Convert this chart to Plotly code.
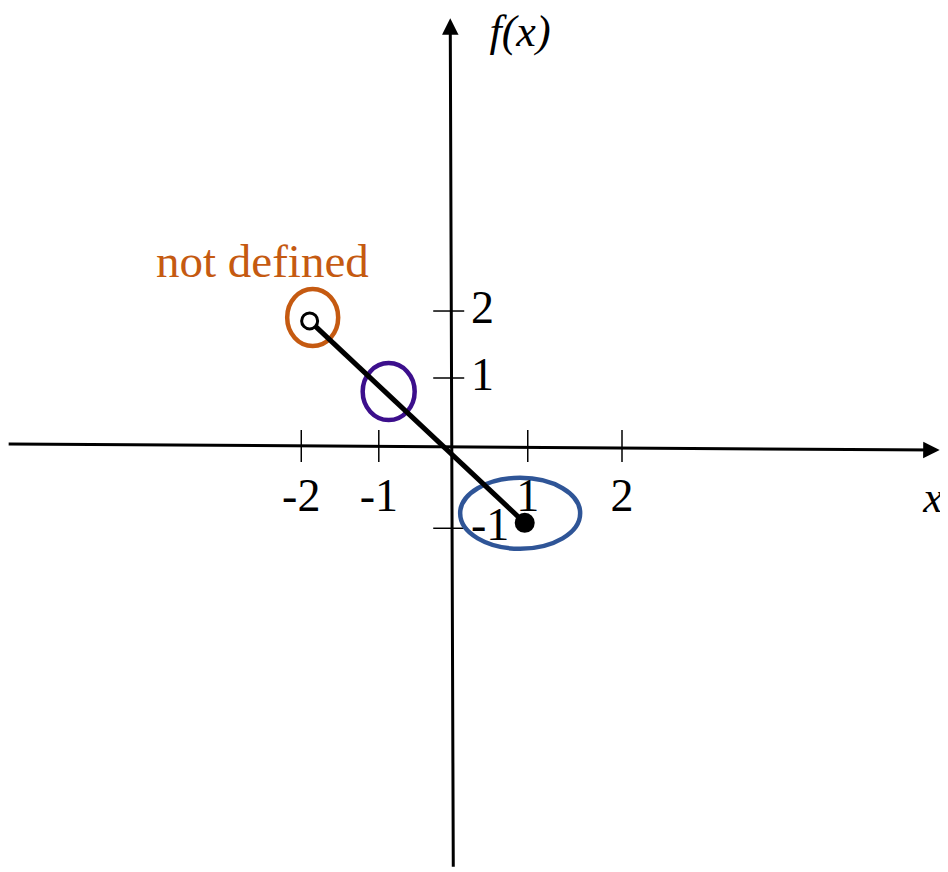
import plotly.graph_objects as go

# the page puts the figure 8px in from the top-left corner
W, H = 940, 864

# scale of the hand-drawn axes (pixels per unit) and origin position in the figure
px_per_x = 76
px_per_y = 68
origin_px = (443, 438)

# the function segment: open end on the left, closed end on the right
seg_x = [-1.86, 0.97]
seg_y = [1.84, -1.13]

x_ticks = [-1.97, -0.95, 1.01, 2.25]
x_tick_text = ["-2", "-1", "1", "2"]
y_ticks = [1.985, 1.0, -1.21]
y_tick_text = ["2", "1", "-1"]

# axis lines (tail -> arrow tip)
x_axis_x = [-5.84, 6.43]
x_axis_y = [0.03, -0.06]
y_axis_x = [0.03, -0.01]
y_axis_y = [-6.21, 6.29]

# highlighted spots
hl_x = [-1.82, -0.82, 0.91]
hl_y = [1.89, 0.80, -0.99]
hl_colors = ["#C55A11", "#3C0F8C", "#2F5597"]
hl_radius = [(25.5, 28.5), (26, 28.5), (60, 35.5)]

serif = "Liberation Serif, Times New Roman, serif"
fsize = 46


def px_to_data(px, py):
    return (px - origin_px[0]) / px_per_x, (origin_px[1] - py) / px_per_y


fig = go.Figure()

# tick labels
fig.add_trace(go.Scatter(
    x=x_ticks, y=[-53 / px_per_y] * len(x_ticks),
    mode="text", text=x_tick_text, textposition="middle center",
    textfont=dict(family=serif, size=fsize, color="black"),
    hoverinfo="skip", showlegend=False,
))
fig.add_trace(go.Scatter(
    x=[20 / px_per_x] * len(y_ticks), y=y_ticks,
    mode="text", text=y_tick_text, textposition="middle right",
    textfont=dict(family=serif, size=fsize, color="black"),
    hoverinfo="skip", showlegend=False,
))

# axis titles, placed near the arrow tips
fx, fy = px_to_data(512, 27)
xx, xy = px_to_data(925, 493)
fig.add_trace(go.Scatter(
    x=[fx, xx], y=[fy, xy], mode="text",
    text=["<i>f(x)</i>", "<i>x</i>"], textposition="middle center",
    textfont=dict(family=serif, size=44, color="black"),
    cliponaxis=False, hoverinfo="skip", showlegend=False,
))

# the segment
fig.add_trace(go.Scatter(
    x=seg_x, y=seg_y, mode="lines",
    line=dict(color="black", width=5),
    hoverinfo="skip", showlegend=False,
))
# open end
fig.add_trace(go.Scatter(
    x=[seg_x[0]], y=[seg_y[0]], mode="markers",
    marker=dict(size=16, color="white", line=dict(color="black", width=3)),
    hoverinfo="skip", showlegend=False,
))
# closed end
fig.add_trace(go.Scatter(
    x=[seg_x[1]], y=[seg_y[1]], mode="markers",
    marker=dict(size=20, color="black"),
    hoverinfo="skip", showlegend=False,
))

shapes = []
# tick marks crossing the axes
for t in x_ticks:
    shapes.append(dict(
        type="line", xref="x", yref="y", x0=t, x1=t,
        ysizemode="pixel", yanchor=0, y0=-16, y1=16,
        line=dict(color="black", width=1.5), layer="below",
    ))
for t in y_ticks:
    shapes.append(dict(
        type="line", xref="x", yref="y", y0=t, y1=t,
        xsizemode="pixel", xanchor=-0.03, x0=-15.5, x1=15.5,
        line=dict(color="black", width=1.5), layer="below",
    ))
# highlight ellipses
for cx, cy, c, (rx, ry) in zip(hl_x, hl_y, hl_colors, hl_radius):
    shapes.append(dict(
        type="circle", xref="x", yref="y",
        xsizemode="pixel", ysizemode="pixel", xanchor=cx, yanchor=cy,
        x0=-rx, x1=rx, y0=-ry, y1=ry,
        line=dict(color=c, width=4.5), layer="below",
    ))

annotations = [
    # axes with arrowheads
    dict(x=x_axis_x[1], y=x_axis_y[1], ax=x_axis_x[0], ay=x_axis_y[0],
         xref="x", yref="y", axref="x", ayref="y", text="", showarrow=True,
         arrowhead=2, arrowsize=1.1, arrowwidth=3, arrowcolor="black", standoff=0),
    dict(x=y_axis_x[1], y=y_axis_y[1], ax=y_axis_x[0], ay=y_axis_y[0],
         xref="x", yref="y", axref="x", ayref="y", text="", showarrow=True,
         arrowhead=2, arrowsize=1.1, arrowwidth=3, arrowcolor="black", standoff=0),
    # note next to the open end
    dict(x=seg_x[0], y=seg_y[0], xref="x", yref="y", text="not defined",
         showarrow=False, xanchor="center", yanchor="middle",
         xshift=-47, yshift=60,
         font=dict(family=serif, size=47, color="#C55A11")),
]

fig.update_layout(
    width=W, height=H,
    margin=dict(l=0, r=0, t=0, b=0),
    paper_bgcolor="white", plot_bgcolor="white",
    xaxis=dict(range=[-origin_px[0] / px_per_x, (W - origin_px[0]) / px_per_x],
               visible=False, fixedrange=True),
    yaxis=dict(range=[-(H - origin_px[1]) / px_per_y, origin_px[1] / px_per_y],
               visible=False, fixedrange=True),
    shapes=shapes,
    annotations=annotations,
    showlegend=False,
)

fig.write_html("out.html")
